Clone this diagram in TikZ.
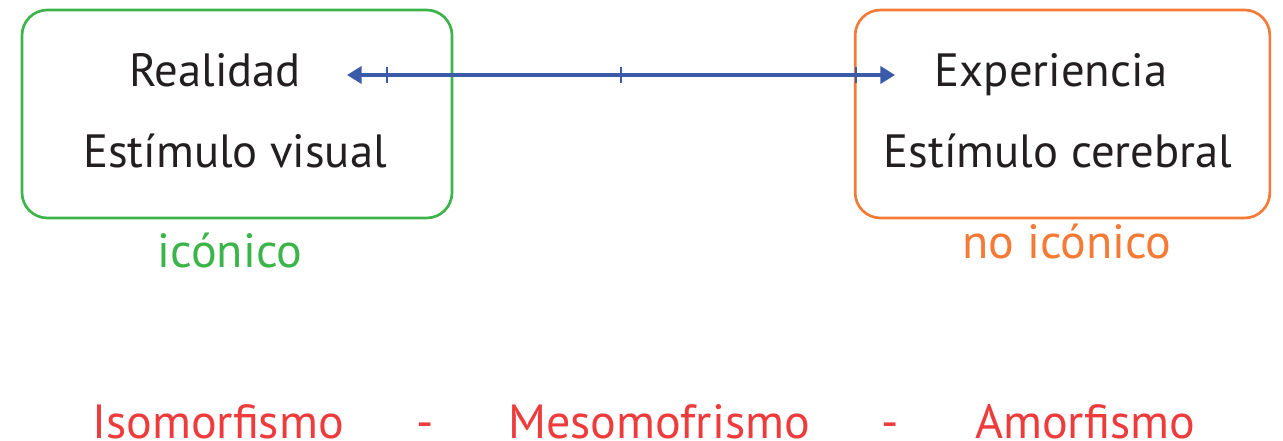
\documentclass[tikz,border=0pt]{standalone}
\usepackage{fontspec}
\setmainfont{PT Sans}
\usetikzlibrary{arrows.meta}
\definecolor{cgreen}{HTML}{3BB54A}
\definecolor{corange}{HTML}{F47A36}
\definecolor{cblue}{HTML}{3A5BAA}
\definecolor{cred}{HTML}{EE3B3B}
\definecolor{ctext}{HTML}{231F20}
\begin{document}
\begin{tikzpicture}[x=0.75pt,y=-0.75pt,
  box/.style={draw, line width=2pt, rounded corners=19pt, minimum height=156pt, inner sep=0pt},
  txt/.style={font=\fontsize{35}{35}\selectfont, text=ctext, anchor=base, inner sep=0pt},
  lbl/.style={font=\fontsize{36}{36}\selectfont, anchor=base, inner sep=0pt},
  tick/.style={draw=cblue, line width=2pt},
  axis/.style={draw=cblue, line width=2.3pt, {Triangle[length=11pt,width=13pt]}-{Triangle[length=11pt,width=13pt]}}]
\useasboundingbox (0,0) rectangle (1283,441);
\node[box, draw=cgreen, minimum width=322.5pt] (gbox) at (237,114) {};
\node[box, draw=corange, minimum width=311pt] (obox) at (1062.5,114) {};
\node[txt] (real) at (215,87) {Realidad};
\node[txt] (estv) at (235,168) {Estímulo visual};
\node[txt] (exp) at (1051,87) {Experiencia};
\node[txt] (estc) at (1058,168) {Estímulo cerebral};
\node[lbl, text=cgreen] (ico) at (230,268) {icónico};
\node[lbl, text=corange] (noico) at (1067,259) {no icónico};
\node[lbl, text=cred] (iso) at (218,439) {Isomorfismo};
\node[lbl, text=cred] (d1) at (425,439) {-};
\node[lbl, text=cred] (meso) at (659,439) {Mesomofrismo};
\node[lbl, text=cred] (d2) at (890,439) {-};
\node[lbl, text=cred] (amo) at (1085,439) {Amorfismo};
\coordinate (aL) at (347,75);
\coordinate (aR) at (895,75);
\draw[axis] (aL) -- (aR);
\foreach \t [count=\i] in {387,621,856} {
  \coordinate (t\i) at (\t,75);
  \draw[tick] ([yshift=6pt]t\i) -- ([yshift=-6pt]t\i);
}
\end{tikzpicture}
\end{document}
